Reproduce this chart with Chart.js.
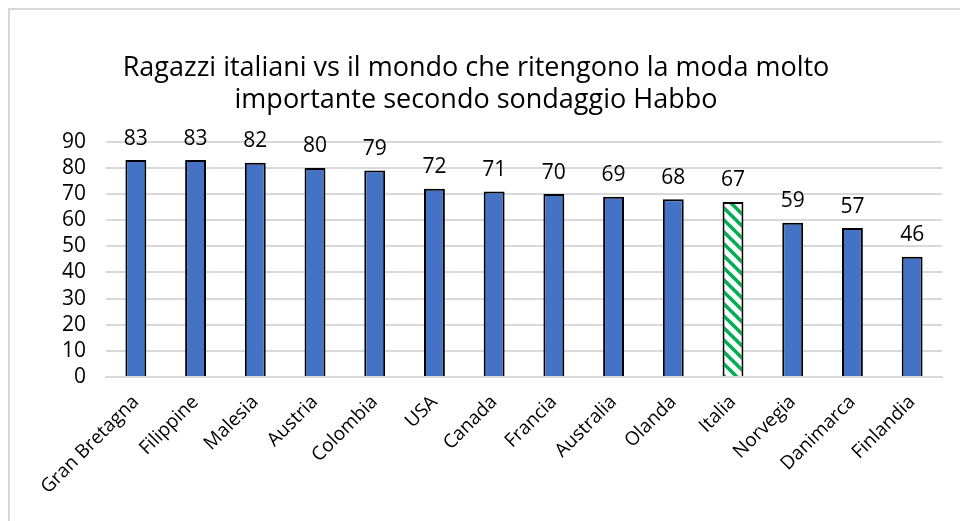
<!DOCTYPE html>
<html lang="it">
<head>
    <meta charset="UTF-8">
    <title>Sondaggio Habbo</title>
    <style>
        body { margin: 0; background: #ffffff; }
        #wrap { width: 960px; height: 521px; }
    </style>
    <script src="https://cdn.jsdelivr.net/npm/chart.js"></script>
</head>
<body>
    <div id="wrap"><canvas id="modaChart" width="960" height="521"></canvas></div>
    <script>
        var paesi = ["Gran Bretagna", "Filippine", "Malesia", "Austria", "Colombia", "USA", "Canada",
            "Francia", "Australia", "Olanda", "Italia", "Norvegia", "Danimarca", "Finlandia"];
        var valori = [83, 83, 82, 80, 79, 72, 71, 70, 69, 68, 67, 59, 57, 46];
        var yTicks = [0, 10, 20, 30, 40, 50, 60, 70, 80, 90];
        var titolo = ["Ragazzi italiani vs il mondo che ritengono la moda molto",
            "importante secondo sondaggio Habbo"];

        var fontName = "'Open Sans', sans-serif";

        // hatch pattern for Italia
        function makeHatch() {
            var c = document.createElement("canvas");
            c.width = 12;
            c.height = 12;
            var g = c.getContext("2d");
            g.fillStyle = "#ffffff";
            g.fillRect(0, 0, 12, 12);
            g.strokeStyle = "#00b050";
            g.lineWidth = 3.5;
            g.beginPath();
            g.moveTo(-3, -3); g.lineTo(15, 15);
            g.moveTo(-3, 9); g.lineTo(3, 15);
            g.moveTo(9, -3); g.lineTo(15, 3);
            g.stroke();
            return g.createPattern(c, "repeat");
        }
        var hatch = makeHatch();

        var colori = paesi.map(p => p === "Italia" ? hatch : "#4472c4");

        var frame = {
            id: "frame",
            beforeDraw(chart) {
                var ctx = chart.ctx;
                ctx.save();
                ctx.fillStyle = "#ffffff";
                ctx.fillRect(0, 0, chart.width, chart.height);
                ctx.strokeStyle = "#d9d9d9";
                ctx.lineWidth = 2;
                ctx.beginPath();
                ctx.moveTo(9, chart.height);
                ctx.lineTo(9, 9);
                ctx.lineTo(chart.width, 9);
                ctx.stroke();
                ctx.restore();
            }
        };

        var etichette = {
            id: "etichette",
            afterDatasetsDraw(chart) {
                var ctx = chart.ctx;
                var meta = chart.getDatasetMeta(0);
                ctx.save();
                ctx.font = "21px " + fontName;
                ctx.fillStyle = "#000000";
                ctx.textAlign = "center";
                ctx.textBaseline = "bottom";
                meta.data.forEach((bar, i) => {
                    ctx.fillText(valori[i], bar.x, bar.y - 11);
                });
                ctx.restore();
            }
        };

        new Chart(document.getElementById("modaChart"), {
            type: "bar",
            data: {
                labels: paesi,
                datasets: [{
                    data: valori,
                    backgroundColor: colori,
                    borderColor: "#000000",
                    borderWidth: 2,
                    barPercentage: 0.7,
                    categoryPercentage: 0.5
                }]
            },
            options: {
                responsive: false,
                animation: false,
                layout: { padding: { left: 10, right: 18, top: 0, bottom: 0 } },
                plugins: {
                    legend: { display: false },
                    tooltip: { enabled: false },
                    title: {
                        display: true,
                        text: titolo,
                        color: "#000000",
                        font: { family: fontName, size: 27, weight: "normal", lineHeight: 1.2 },
                        padding: { top: 52, bottom: 25 }
                    }
                },
                scales: {
                    x: {
                        grid: { display: false },
                        border: { color: "#d9d9d9", width: 2 },
                        ticks: {
                            color: "#000000",
                            font: { family: fontName, size: 19 },
                            minRotation: 45,
                            maxRotation: 45,
                            autoSkip: false,
                            padding: 6
                        },
                        afterFit(scale) { scale.height = 144; }
                    },
                    y: {
                        min: 0,
                        max: 90,
                        afterBuildTicks(scale) {
                            scale.ticks = yTicks.map(v => ({ value: v }));
                        },
                        grid: { color: "#d9d9d9", lineWidth: 2, drawTicks: false },
                        border: { display: false },
                        ticks: {
                            color: "#000000",
                            font: { family: fontName, size: 21 },
                            autoSkip: false,
                            padding: 20
                        },
                        afterFit(scale) { scale.width = 96; }
                    }
                }
            },
            plugins: [frame, etichette]
        });
    </script>
</body>
</html>
